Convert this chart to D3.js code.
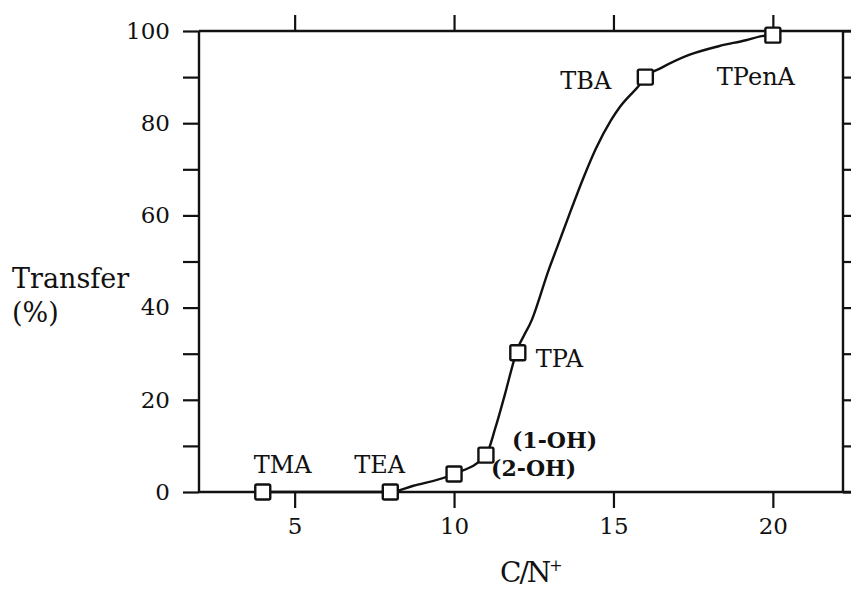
<!DOCTYPE html>
<html>
<head>
<meta charset="utf-8">
<script src="https://cdn.jsdelivr.net/npm/d3@7/dist/d3.min.js"></script>
<style>
  body { margin: 0; background: #fff; }
  svg { display: block; }
  text { font-family: "DejaVu Serif", "Liberation Serif", serif; fill: #111; }
  .lbl { font-size: 24px; }
</style>
</head>
<body>
<svg width="851" height="592"></svg>
<script>
// marker points (C/N+ vs transfer %)
const cn = [4, 8, 10, 11, 12, 16, 20];
const transfer = [0, 0, 3.9, 8.0, 30.2, 90.0, 99.1];

// points
const curveCn = [4, 8, 8.7, 10, 11, 11.3, 11.6, 11.95, 12.45, 12.98, 13.25, 13.6, 14.05, 14.45, 14.92, 15.2, 15.8, 16, 16.5, 17.37, 18.3, 19.15, 19.66, 20];
const curveTransfer = [0, 0, 1.3, 3.9, 8.0, 14, 21.3, 30.2, 37.5, 48.4, 53.4, 59.9, 68.0, 74.5, 80.6, 83.5, 88.2, 90.0, 92, 94.8, 96.7, 98.0, 98.9, 99.1];

// point labels
const labels = [
  { text: "TMA", x: 4, y: 0 },
  { text: "TEA", x: 8, y: 0 },
  { text: "(1-OH)", x: 11, y: 8 },
  { text: "(2-OH)", x: 10, y: 3.9 },
  { text: "TPA", x: 12, y: 30.2 },
  { text: "TBA", x: 16, y: 90 },
  { text: "TPenA", x: 20, y: 99.1 }
];

const xTicks = [5, 10, 15, 20];
const yTicks = [0, 10, 20, 30, 40, 50, 60, 70, 80, 90, 100];
const yTickLabels = [0, 20, 40, 60, 80, 100];

var svg = d3.select("svg");

var x = d3.scaleLinear().domain([2, 22.2]).range([199, 843]);
var y = d3.scaleLinear().domain([0, 100]).range([492, 31]);

// =========================================================================
// FRAME + AXES
// =========================================================================
// left axis: ticks outward, labels on majors only
svg.append("g")
  .attr("transform", "translate(" + x(2) + ",0)")
  .call(d3.axisLeft(y).tickValues(yTicks).tickSize(16).tickPadding(13)
    .tickFormat((d) => (yTickLabels.includes(d) ? d : "")))
  .call((a) => a.select(".domain").remove());

// right axis: ticks outward, no labels
svg.append("g")
  .attr("transform", "translate(" + x(22.2) + ",0)")
  .call(d3.axisRight(y).tickValues(yTicks).tickSize(16).tickFormat(""))
  .call((a) => a.select(".domain").remove());

// bottom axis
svg.append("g")
  .attr("transform", "translate(0," + y(0) + ")")
  .call(d3.axisBottom(x).tickValues(xTicks).tickSize(16).tickPadding(10))
  .call((a) => a.select(".domain").remove());

// top axis
svg.append("g")
  .attr("transform", "translate(0," + y(100) + ")")
  .call(d3.axisTop(x).tickValues(xTicks).tickSize(16).tickFormat(""))
  .call((a) => a.select(".domain").remove());

svg.selectAll(".tick line").attr("stroke", "#111").attr("stroke-width", 2.2);
svg.selectAll(".tick text").style("font-family", "DejaVu Serif").style("font-size", "23px").attr("fill", "#111");

// frame lines (horizontal ones run past the right axis)
svg.append("line").attr("x1", x(2)).attr("x2", 860).attr("y1", y(100)).attr("y2", y(100));
svg.append("line").attr("x1", x(2)).attr("x2", 860).attr("y1", y(0)).attr("y2", y(0));
svg.append("line").attr("x1", x(2)).attr("x2", x(2)).attr("y1", y(100)).attr("y2", y(0));
svg.append("line").attr("x1", x(22.2)).attr("x2", x(22.2)).attr("y1", y(100)).attr("y2", y(0));
svg.selectAll("svg > line").attr("stroke", "#111").attr("stroke-width", 2.4);

// =========================================================================
// CURVE + MARKERS
// =========================================================================
var line = d3.line()
  .x((d, i) => x(curveCn[i]))
  .y((d) => y(d))
  .curve(d3.curveMonotoneX);

svg.append("path")
  .datum(curveTransfer)
  .attr("d", line)
  .attr("fill", "none")
  .attr("stroke", "#111")
  .attr("stroke-width", 2.4);

var size = 15;
svg.selectAll(".pt")
  .data(transfer)
  .enter()
  .append("rect")
  .attr("class", "pt")
  .attr("x", (d, i) => x(cn[i]) - size / 2)
  .attr("y", (d) => y(d) - size / 2)
  .attr("width", size)
  .attr("height", size)
  .attr("rx", 1.5)
  .attr("fill", "#fff")
  .attr("stroke", "#111")
  .attr("stroke-width", 2.4);

// =========================================================================
// LABELS
// =========================================================================
// offsets from the marker centre
var offsets = {
  "TMA": [-9, -19],
  "TEA": [-36, -19],
  "(1-OH)": [26, -7],
  "(2-OH)": [37, 2],
  "TPA": [18, 14],
  "TBA": [-85, 12],
  "TPenA": [-56, 50]
};

svg.selectAll(".plbl")
  .data(labels)
  .enter()
  .append("text")
  .attr("class", "lbl")
  .attr("x", (d) => x(d.x) + offsets[d.text][0])
  .attr("y", (d) => y(d.y) + offsets[d.text][1])
  .style("font-size", (d) => (d.text.indexOf("OH") >= 0 ? "22px" : "24px"))
  .style("font-weight", (d) => (d.text.indexOf("OH") >= 0 ? "bold" : "normal"))
  .text((d) => d.text);

svg.append("text")
  .attr("x", 12)
  .attr("y", 288)
  .style("font-size", "27px")
  .text("Transfer");

svg.append("text")
  .attr("x", 12)
  .attr("y", 322)
  .style("font-size", "27px")
  .text("(%)");

var xl = svg.append("text")
  .attr("x", 500)
  .attr("y", 582)
  .style("font-size", "28px")
  .style("letter-spacing", "-2px");
xl.append("tspan").text("C/N");
xl.append("tspan").attr("dy", -11).style("font-size", "16px").text("+");
</script>
</body>
</html>
